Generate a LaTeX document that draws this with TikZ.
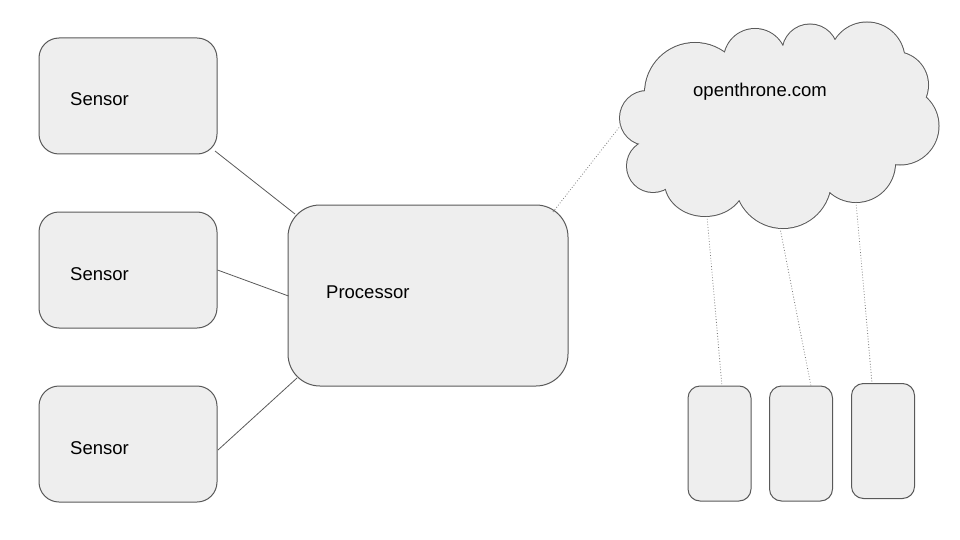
\documentclass[tikz,border=0pt]{standalone}
\usepackage{fontspec}
\setmainfont{Liberation Sans}
\definecolor{boxfill}{HTML}{EEEEEE}
\definecolor{boxline}{HTML}{595959}
\tikzset{
  box/.style={draw=boxline, fill=boxfill, line width=1pt, rectangle, inner sep=0pt},
  sensorbox/.style={box, rounded corners=20pt, minimum width=178pt, minimum height=116pt},
  procbox/.style={box, rounded corners=32pt, minimum width=280pt, minimum height=181pt},
  phonebox/.style={box, rounded corners=12pt, minimum width=63pt, minimum height=115pt},
  cloudedge/.style={draw=boxline, line width=2pt},
  cloudfill/.style={fill=boxfill},
  lbl/.style={font=\fontsize{18.5}{22}\selectfont, text=black, inner sep=0pt, anchor=base west},
  solidlink/.style={draw=boxline, line width=0.8pt},
  dotlink/.style={draw=boxline!80, line width=0.8pt, dotted},
}
\def\cloudpuffs{
  (647,118) circle[radius=27]
  (695,93) circle[radius=50]
  (755,60) circle[radius=31]
  (810,52) circle[radius=27.5]
  (867,60) circle[radius=37.5]
  (895,85) circle[radius=33]
  (900,126) circle[radius=38.5]
  (856,163) circle[radius=39]
  (783,180) circle[radius=48]
  (705,182) ellipse[x radius=40, y radius=34]
  (653,166) circle[radius=26]
}
\begin{document}
\begin{tikzpicture}[x=1pt, y=-1pt]
\useasboundingbox (0,0) rectangle (960,540);
% sensors
\node[sensorbox] (s1) at (128,96) {};
\node[sensorbox] (s2) at (128,270) {};
\node[sensorbox] (s3) at (128,444) {};
\node[lbl] (t1) at (70,106) {Sensor};
\node[lbl] (t2) at (70,280) {Sensor};
\node[lbl] (t3) at (70,454) {Sensor};
% processor
\node[procbox] (proc) at (428,295.5) {};
\node[lbl] (tp) at (326,298) {Processor};
% cloud: stroked puffs, then their filled union on top
\draw[cloudedge] \cloudpuffs;
\fill[cloudfill] \cloudpuffs;
\fill[cloudfill] (647,118) -- (695,93) -- (755,60) -- (810,52) -- (867,60) -- (895,85)
  -- (900,126) -- (856,163) -- (783,180) -- (705,182) -- (653,166) -- cycle;
\coordinate (cloud) at (778,127);
\node[lbl] (tc) at (693,97) {openthrone.com};
% phones
\node[phonebox] (ph1) at (719.5,443.5) {};
\node[phonebox] (ph2) at (801,443.5) {};
\node[phonebox] (ph3) at (883,441) {};
% connector end points
\coordinate (s1e) at (215,151);
\coordinate (p1e) at (295,214);
\coordinate (s2e) at (217.5,270);
\coordinate (p2e) at (288.5,296);
\coordinate (s3e) at (218,450);
\coordinate (p3e) at (297,378);
\coordinate (pc) at (553,212);
\coordinate (cp) at (621,125);
\coordinate (c1) at (707,216);
\coordinate (c2) at (780,228);
\coordinate (c3) at (856,202);
\coordinate (f1) at (722,386);
\coordinate (f2) at (811,386);
\coordinate (f3) at (872,383);
% links
\draw[solidlink] (s1e) -- (p1e);
\draw[solidlink] (s2e) -- (p2e);
\draw[solidlink] (s3e) -- (p3e);
\draw[dotlink] (pc) -- (cp);
\draw[dotlink] (c1) -- (f1);
\draw[dotlink] (c2) -- (f2);
\draw[dotlink] (c3) -- (f3);
\end{tikzpicture}
\end{document}
